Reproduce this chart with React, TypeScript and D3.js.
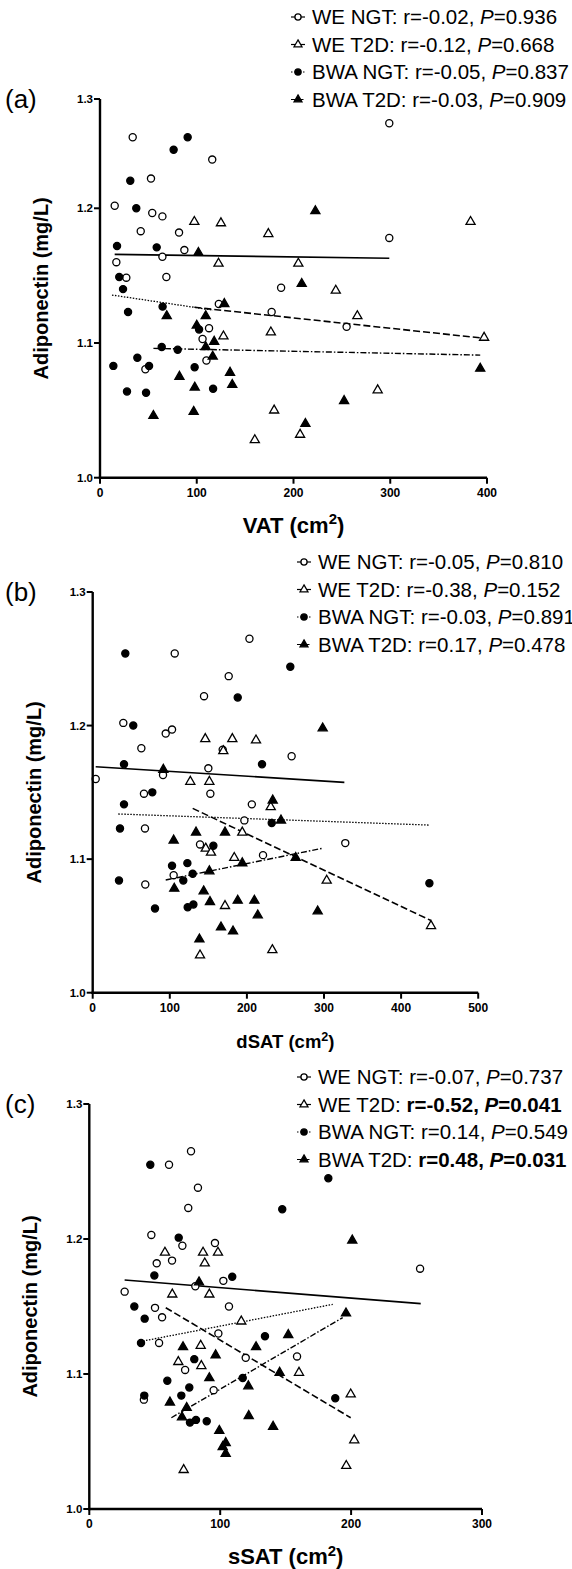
import React from 'react';
import * as d3 from 'd3';

// group order: WE NGT, WE T2D, BWA NGT, BWA T2D
const groupNames = ['WE NGT', 'WE T2D', 'BWA NGT', 'BWA T2D'];
const yTicks = [1.0, 1.1, 1.2, 1.3];

// (a) VAT
const vatWeNgt = [[33.8,1.265],[116,1.2446],[52.7,1.2272],[15.2,1.2023],[54,1.1965],[64.5,1.194],[42.1,1.183],[81.7,1.182],[87.2,1.169],[64.5,1.164],[16.9,1.16],[27.2,1.1485],[68.6,1.149],[187.2,1.141],[122.8,1.129],[177.4,1.123],[254.9,1.112],[299,1.2778],[299,1.178],[112.7,1.111],[106,1.103],[110,1.087],[46.9,1.0805]];
const vatWeT2d = [[97.5,1.19],[125,1.189],[174,1.181],[122.5,1.159],[205,1.159],[243.7,1.139],[266,1.12],[127.6,1.105],[176.6,1.108],[160,1.028],[180,1.05],[206.8,1.032],[287,1.065],[383,1.19],[397,1.104]];
const vatBwaNgt = [[90.6,1.265],[76.1,1.2535],[31.3,1.2252],[37.5,1.2],[17.6,1.172],[58.6,1.171],[19.9,1.149],[23.8,1.14],[29,1.123],[64.7,1.127],[102.4,1.11],[13.8,1.083],[27.9,1.064],[38.6,1.089],[50.7,1.083],[47.6,1.063],[63.8,1.097],[80.3,1.095],[97.8,1.082],[116.9,1.066]];
const vatBwaT2d = [[222.6,1.198],[101.7,1.167],[208.5,1.144],[128.5,1.129],[69,1.12],[109.3,1.12],[100,1.113],[118,1.101],[116.5,1.09],[82.1,1.075],[97.9,1.067],[55.2,1.046],[96.8,1.049],[134.4,1.078],[136.7,1.069],[252.3,1.057],[212.3,1.04],[109.3,1.097],[393,1.081]];
const vatFits = [[[15.2,1.1658],[299,1.1629]],[[97.5,1.1265],[397,1.1035]],[[12.4,1.1356],[116.9,1.1244]],[[55.2,1.096],[393,1.091]]];
const vatStats = [['-0.02','0.936'],['-0.12','0.668'],['-0.05','0.837'],['-0.03','0.909']];
const vatTicks = [0, 100, 200, 300, 400];

// (b) dSAT
const dsatWeNgt = [[203.3,1.265],[106.4,1.254],[176.4,1.237],[144.4,1.222],[39.7,1.202],[94.7,1.194],[102.9,1.197],[63.1,1.183],[168.6,1.182],[258,1.177],[150,1.168],[91.2,1.163],[3.9,1.16],[66.5,1.149],[152.6,1.149],[206.4,1.141],[196.7,1.129],[67.8,1.123],[139.2,1.111],[327.6,1.112],[220.9,1.103],[105,1.088],[68.2,1.081]];
const dsatWeT2d = [[146,1.19],[181.1,1.19],[211.8,1.189],[169.4,1.181],[126.6,1.158],[151.3,1.158],[230.9,1.139],[194,1.12],[146.6,1.108],[153.4,1.105],[183.6,1.101],[303.5,1.084],[171.6,1.065],[438.8,1.05],[233,1.032],[139.2,1.028]];
const dsatBwaNgt = [[42.3,1.254],[256.3,1.244],[188.1,1.221],[52.6,1.2],[40.6,1.171],[219.6,1.171],[77.3,1.15],[40.6,1.141],[35.4,1.123],[232.2,1.127],[156.5,1.11],[102.9,1.095],[122.8,1.097],[129.7,1.089],[117.5,1.084],[34.1,1.084],[80.8,1.063],[123.2,1.064],[130.6,1.066],[436.7,1.082]];
const dsatBwaT2d = [[298.3,1.198],[233.5,1.144],[91.6,1.167],[244.2,1.129],[134,1.12],[171.6,1.12],[105,1.114],[263.3,1.101],[194,1.097],[151.3,1.091],[105.8,1.078],[143.9,1.076],[152.1,1.068],[188.1,1.069],[209.7,1.069],[214.1,1.058],[291.8,1.061],[166.4,1.049],[182,1.046],[138.4,1.04]];
const dsatFits = [[[3.9,1.1692],[326.4,1.1575]],[[129.7,1.138],[438.8,1.054]],[[33.2,1.1338],[436.7,1.1255]],[[94.7,1.0844],[297,1.108]]];
const dsatStats = [['-0.05','0.810'],['-0.38','0.152'],['-0.03','0.891'],['0.17','0.478']];
const dsatTicks = [0, 100, 200, 300, 400, 500];

// (c) sSAT
const ssatWeNgt = [[77.7,1.265],[60.9,1.255],[83,1.238],[75.6,1.223],[47.4,1.203],[96,1.197],[71.1,1.195],[51.5,1.182],[63.2,1.184],[102.4,1.169],[81,1.165],[27,1.161],[252.7,1.178],[50.2,1.149],[106.7,1.15],[55.6,1.142],[98.6,1.13],[53.3,1.123],[119.5,1.112],[158.7,1.113],[73.2,1.103],[95,1.088],[41.7,1.081]];
const ssatWeT2d = [[57.8,1.19],[86.9,1.19],[98.3,1.19],[88.2,1.182],[63.4,1.159],[91.7,1.159],[116.1,1.139],[85.1,1.121],[68,1.109],[85.6,1.106],[160.2,1.101],[199.7,1.085],[202.4,1.051],[196.3,1.032],[72.1,1.029]];
const ssatBwaNgt = [[46.6,1.255],[182.6,1.245],[147.4,1.222],[68.3,1.201],[49.7,1.173],[109.2,1.172],[34.4,1.15],[42.3,1.141],[134.2,1.128],[39.5,1.123],[80.2,1.111],[59.6,1.095],[117.2,1.097],[76.4,1.09],[70.3,1.084],[42,1.084],[81.5,1.066],[76.9,1.064],[89.7,1.065],[187.9,1.082]];
const ssatBwaT2d = [[200.9,1.199],[83.8,1.168],[196.1,1.145],[152,1.129],[71.6,1.12],[127.4,1.12],[96.5,1.114],[91.7,1.097],[145.4,1.101],[121.5,1.091],[61.6,1.079],[74.4,1.075],[70.8,1.068],[121.8,1.069],[99.3,1.058],[140.4,1.061],[104.2,1.049],[101.9,1.046],[104.2,1.041]];
const ssatFits = [[[27,1.1696],[253.2,1.1521]],[[58.4,1.1491],[199.7,1.0676]],[[38.8,1.124],[186,1.1516]],[[62.7,1.0676],[193.6,1.1418]]];
const ssatStats = [['-0.07','0.737'],['-0.52','0.041'],['0.14','0.549'],['0.48','0.031']];
const ssatBold = [false, true, false, true];
const ssatTicks = [0, 100, 200, 300];

const groupStyle = [
  { shape: d3.symbolCircle, fill: '#fff', dash: null, width: 1.6 },
  { shape: d3.symbolTriangle, fill: '#fff', dash: '7,3', width: 1.6 },
  { shape: d3.symbolCircle, fill: '#000', dash: '1.5,1.5', width: 1.3 },
  { shape: d3.symbolTriangle, fill: '#000', dash: '6,2,1.5,2', width: 1.4 },
];

const panels = [
  { tag: '(a)', title: 'VAT', titleSize: 22, xTicks: vatTicks, groups: [vatWeNgt, vatWeT2d, vatBwaNgt, vatBwaT2d], fits: vatFits, stats: vatStats, bold: [false, false, false, false],
    left: 100, right: 487, yDomain: [1.0, 1.2, 1.3], yRange: [477.7, 208.3, 99], legendX: 298, legendY: 17 },
  { tag: '(b)', title: 'dSAT', titleSize: 18.5, xTicks: dsatTicks, groups: [dsatWeNgt, dsatWeT2d, dsatBwaNgt, dsatBwaT2d], fits: dsatFits, stats: dsatStats, bold: [false, false, false, false],
    left: 92.7, right: 478.2, yDomain: [1.0, 1.3], yRange: [992.7, 592], legendX: 304, legendY: 562 },
  { tag: '(c)', title: 'sSAT', titleSize: 22, xTicks: ssatTicks, groups: [ssatWeNgt, ssatWeT2d, ssatBwaNgt, ssatBwaT2d], fits: ssatFits, stats: ssatStats, bold: ssatBold,
    left: 89.3, right: 482, yDomain: [1.0, 1.3], yRange: [1509, 1104], legendX: 304, legendY: 1077 },
];

const font = 'Arial, "Liberation Sans", Helvetica, sans-serif';

function Marker({ i, x, y, s = 1 }: { i: number; x: number; y: number; s?: number }) {
  const st = groupStyle[i];
  const size = (st.shape === d3.symbolCircle ? 40 : 36) * s;
  return (
    <path
      d={d3.symbol().type(st.shape).size(size)() as string}
      transform={`translate(${x},${y})`}
      fill={st.fill}
      stroke="#000"
      strokeWidth={1.3}
    />
  );
}

function Panel({ p }: { p: any }) {
  const xMax = p.xTicks[p.xTicks.length - 1];
  const x = d3.scaleLinear().domain([0, xMax]).range([p.left, p.right]);
  const y = d3.scaleLinear().domain(p.yDomain).range(p.yRange);
  const line = d3.line<number[]>().x(d => x(d[0])).y(d => y(d[1]));
  const bottom = y(1.0);
  const top = y(1.3);
  const midY = (y(1.0) + y(1.3)) / 2;
  return (
    <g fontFamily={font}>
      {/* regression lines */}
      {p.fits.map((f: number[][], i: number) => (
        <path key={'f' + i} d={line(f) as string} fill="none" stroke="#000"
          strokeWidth={groupStyle[i].width} strokeDasharray={groupStyle[i].dash || undefined} />
      ))}
      {/* points */}
      {p.groups.map((g: number[][], i: number) =>
        g.map((d, j) => <Marker key={i + '-' + j} i={i} x={x(d[0])} y={y(d[1])} />)
      )}
      {/* axes */}
      <line x1={p.left} x2={p.left} y1={top} y2={bottom + 1.2} stroke="#000" strokeWidth={2.4} />
      <line x1={p.left - 1.2} x2={p.right} y1={bottom} y2={bottom} stroke="#000" strokeWidth={2.4} />
      {yTicks.map(t => (
        <g key={'y' + t}>
          <line x1={p.left - 6} x2={p.left} y1={y(t)} y2={y(t)} stroke="#000" strokeWidth={2} />
          <text x={p.left - 7} y={y(t)} dy="0.35em" textAnchor="end" fontSize={11.5} fontWeight="bold">{d3.format('.1f')(t)}</text>
        </g>
      ))}
      {p.xTicks.map((t: number) => (
        <g key={'x' + t}>
          <line x1={x(t)} x2={x(t)} y1={bottom} y2={bottom + 6} stroke="#000" strokeWidth={2} />
          <text x={x(t)} y={bottom + 19} textAnchor="middle" fontSize={12} fontWeight="bold">{t}</text>
        </g>
      ))}
      <text x={(p.left + p.right) / 2} y={bottom + 55} textAnchor="middle" fontSize={p.titleSize} fontWeight="bold">
        {p.title} (cm<tspan dy={-p.titleSize * 0.38} fontSize={p.titleSize * 0.68}>2</tspan><tspan dy={p.titleSize * 0.38}>)</tspan>
      </text>
      <text transform={`translate(${p.left - 52},${midY}) rotate(-90)`} textAnchor="middle" fontSize={20} fontWeight="bold">
        Adiponectin (mg/L)
      </text>
      <text x={5} y={top} dy="0.35em" fontSize={26}>{p.tag}</text>
      {/* legend */}
      {groupNames.map((n, i) => {
        const ly = p.legendY + i * 27.5;
        const b = p.bold[i] ? 'bold' : 'normal';
        return (
          <g key={'l' + i}>
            <line x1={p.legendX - 7} x2={p.legendX + 7} y1={ly} y2={ly} stroke="#000"
              strokeWidth={1.2} strokeDasharray={i === 2 ? '1.5,1.5' : i === 3 ? '4,1.5,1.5,1.5' : undefined} />
            <Marker i={i} x={p.legendX} y={ly} s={0.75} />
            <text x={p.legendX + 14} y={ly} dy="0.36em" fontSize={20.5}>
              {n}: <tspan fontWeight={b}>r={p.stats[i][0]}, </tspan>
              <tspan fontWeight={b} fontStyle="italic">P</tspan>
              <tspan fontWeight={b}>={p.stats[i][1]}</tspan>
            </text>
          </g>
        );
      })}
    </g>
  );
}

export default function App() {
  return (
    <svg width={572} height={1569} style={{ position: 'absolute', left: 0, top: 0, background: '#fff' }}>
      <rect width={572} height={1569} fill="#fff" />
      {panels.map(p => <Panel key={p.tag} p={p} />)}
    </svg>
  );
}
